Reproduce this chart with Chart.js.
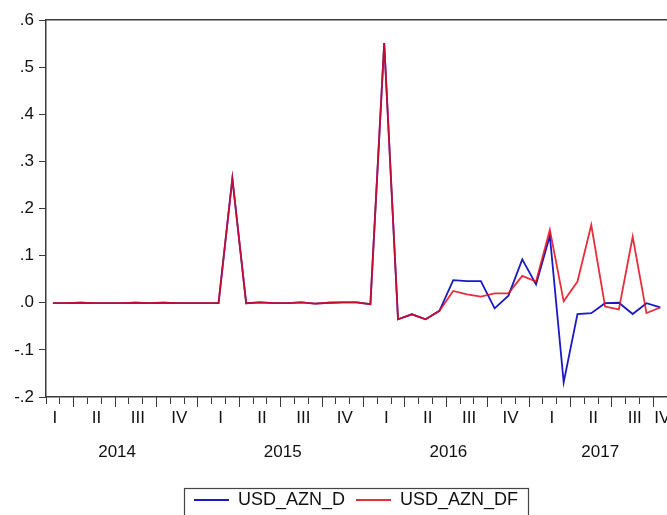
<!DOCTYPE html>
<html>
<head>
<meta charset="utf-8">
<title>USD_AZN_D vs USD_AZN_DF</title>
<script src="https://cdn.jsdelivr.net/npm/chart.js@4"></script>
<style>
  html, body { margin: 0; padding: 0; background: #fff; overflow: hidden; }
  #wrap { position: relative; width: 712px; height: 525px; }
</style>
</head>
<body>
<div id="wrap"><canvas id="c"></canvas></div>
<script>
// Monthly observations, 2014M02 .. 2017M10
const months = [
  '2014M02','2014M03','2014M04','2014M05','2014M06','2014M07','2014M08','2014M09','2014M10','2014M11','2014M12',
  '2015M01','2015M02','2015M03','2015M04','2015M05','2015M06','2015M07','2015M08','2015M09','2015M10','2015M11','2015M12',
  '2016M01','2016M02','2016M03','2016M04','2016M05','2016M06','2016M07','2016M08','2016M09','2016M10','2016M11','2016M12',
  '2017M01','2017M02','2017M03','2017M04','2017M05','2017M06','2017M07','2017M08','2017M09','2017M10'
];

// Actual differenced series
const usdAznD = [
  -0.001, -0.001,  0.000, -0.001, -0.001, -0.001,  0.000, -0.001,  0.000, -0.001, -0.001,
  -0.001, -0.001,  0.264, -0.001,  0.001, -0.001, -0.001,  0.001, -0.002,  0.000,  0.001,
   0.001, -0.003,  0.551, -0.035, -0.0245, -0.035, -0.017,  0.048,  0.046,  0.046, -0.012,
   0.015,  0.092,  0.039,  0.142, -0.169, -0.024, -0.022, -0.001,  0.000, -0.024, -0.001,
  -0.010
];

// Fitted / forecast series
const usdAznDF = [
  -0.001, -0.001,  0.000, -0.001, -0.001, -0.001,  0.000, -0.001,  0.000, -0.001, -0.001,
  -0.001, -0.001,  0.264, -0.001,  0.001, -0.001, -0.001,  0.001, -0.002,  0.000,  0.001,
   0.001, -0.003,  0.551, -0.035, -0.0245, -0.035, -0.017,  0.025,  0.018,  0.013,  0.020,
   0.020,  0.057,  0.045,  0.155,  0.003,  0.045,  0.165, -0.008, -0.014,  0.140, -0.022,
  -0.010
];

const quarterLabels = ['I','II','III','IV','I','II','III','IV','I','II','III','IV','I','II','III','IV'];
const yearLabels = ['2014','2015','2016','2017'];
const yTickValues = [-0.2, -0.1, 0.0, 0.1, 0.2, 0.3, 0.4, 0.5, 0.6];
const yTickLabels = ['-.2', '-.1', '.0', '.1', '.2', '.3', '.4', '.5', '.6'];

// ---- layout / style ----
const FONT = "'Liberation Sans', Arial, Helvetica, sans-serif";
const INK = '#111111';
const FRAME = '#3a3a3a';
const BLUE = '#1a1ac4';
const RED = 'rgba(226,10,28,0.85)';

// x positions are month offsets from the first observation (2014M02 = 0)
const X_MIN = -0.5;
const X_MAX = 45.5;                        // axis runs through 2017M11
const LABEL_END = months.length - 0.5;     // period labels stop at the last observation
const LABEL_NUDGE = 0.15;

const monthEdges = [];
for (let v = X_MIN; v <= X_MAX + 1e-9; v += 1) monthEdges.push(v);
const isQuarterEdge = v => (((v + 1.5) % 3) + 3) % 3 === 0;
const quarterEdges = monthEdges.filter(isQuarterEdge);

// quarter label centred on the observed part of each quarter
const quarterTicks = quarterLabels.map((lab, q) => {
  const a = 3 * q - 1.5, b = Math.min(3 * q + 1.5, LABEL_END);
  return { value: (a + b) / 2 + LABEL_NUDGE, label: lab };
});
const yearTicks = yearLabels.map((lab, k) => {
  const a = 12 * k - 1.5, b = Math.min(12 * k + 10.5, LABEL_END);
  return { value: (a + b) / 2 + LABEL_NUDGE, label: lab };
});
// bottom axis: month boundary marks plus the quarter labels
const xMainTicks = monthEdges.map(v => ({ value: v, label: '', mark: true }))
  .concat(quarterTicks.map(t => ({ value: t.value, label: t.label, mark: false })))
  .sort((a, b) => a.value - b.value);

const toPoints = vals => vals.map((y, i) => ({ x: i, y }));

// frame around the legend entries
const legendFrame = {
  id: 'legendFrame',
  afterDraw(chart) {
    const lg = chart.legend;
    if (!lg || !lg.legendHitBoxes || !lg.legendHitBoxes.length) return;
    const hb = lg.legendHitBoxes;
    const first = hb[0], last = hb[hb.length - 1];
    const left = first.left - 10;
    const right = last.left + last.width + 10;
    const top = first.top - 3;
    const ctx = chart.ctx;
    ctx.save();
    ctx.strokeStyle = '#444';
    ctx.lineWidth = 1.2;
    ctx.strokeRect(Math.round(left) + 0.5, Math.round(top) + 0.5, Math.round(right - left), 32);
    ctx.restore();
  }
};

const tickFont = { family: FONT, size: 17 };

new Chart(document.getElementById('c'), {
  type: 'line',
  data: {
    datasets: [
      {
        label: 'USD_AZN_D',
        data: toPoints(usdAznD),
        borderColor: BLUE,
        backgroundColor: BLUE,
        borderWidth: 1.8,
        pointRadius: 0,
        tension: 0,
        fill: false,
        order: 1
      },
      {
        label: 'USD_AZN_DF',
        data: toPoints(usdAznDF),
        borderColor: RED,
        backgroundColor: RED,
        borderWidth: 1.8,
        pointRadius: 0,
        tension: 0,
        fill: false,
        order: 0
      }
    ]
  },
  options: {
    responsive: true,
    maintainAspectRatio: false,
    animation: false,
    events: [],
    layout: { padding: { top: 20, bottom: 6, left: 0, right: 0 } },
    plugins: {
      tooltip: { enabled: false },
      legend: {
        position: 'bottom',
        labels: {
          font: { family: FONT, size: 18 },
          color: INK,
          usePointStyle: true,
          pointStyle: 'line',
          pointStyleWidth: 35,
          padding: 11,
          sort: (a, b) => a.datasetIndex - b.datasetIndex
        }
      }
    },
    scales: {
      x: {
        type: 'linear',
        position: 'bottom',
        weight: 0,
        min: X_MIN,
        max: X_MAX,
        afterBuildTicks: s => { s.ticks = xMainTicks.map(t => ({ value: t.value })); },
        afterFit: s => { s.height = 40; },
        grid: {
          drawOnChartArea: false,
          drawTicks: true,
          tickLength: 7,
          tickWidth: 1,
          tickColor: ctx => (xMainTicks[ctx.index] && xMainTicks[ctx.index].mark) ? FRAME : 'rgba(0,0,0,0)'
        },
        border: { display: true, color: FRAME, width: 1.5 },
        ticks: {
          autoSkip: false,
          maxRotation: 0,
          padding: 4,
          font: tickFont,
          color: INK,
          callback: (v, i) => xMainTicks[i] ? xMainTicks[i].label : ''
        }
      },
      xyear: {
        type: 'linear',
        axis: 'x',
        position: 'bottom',
        weight: 1,
        min: X_MIN,
        max: X_MAX,
        afterBuildTicks: s => { s.ticks = yearTicks.map(t => ({ value: t.value })); },
        afterFit: s => { s.height = 43; },
        grid: { display: false, drawTicks: false, drawOnChartArea: false },
        border: { display: false },
        ticks: {
          autoSkip: false,
          maxRotation: 0,
          padding: 5,
          font: tickFont,
          color: INK,
          callback: (v, i) => yearTicks[i] ? yearTicks[i].label : ''
        }
      },
      xquarter: {
        type: 'linear',
        axis: 'x',
        position: { y: -0.2 },
        min: X_MIN,
        max: X_MAX,
        afterBuildTicks: s => { s.ticks = quarterEdges.map(v => ({ value: v })); },
        grid: { drawOnChartArea: false, drawTicks: true, tickLength: 10, tickWidth: 1, tickColor: FRAME },
        border: { display: false },
        ticks: { display: false }
      },
      xtop: {
        type: 'linear',
        axis: 'x',
        position: 'top',
        min: X_MIN,
        max: X_MAX,
        afterFit: s => { s.height = 0; },
        grid: { display: false, drawTicks: false, drawOnChartArea: false },
        border: { display: true, color: FRAME, width: 1.5 },
        ticks: { display: false }
      },
      y: {
        type: 'linear',
        position: 'left',
        min: -0.2,
        max: 0.6,
        afterBuildTicks: s => { s.ticks = yTickValues.map(v => ({ value: v })); },
        afterFit: s => { s.width = 46; },
        grid: { drawOnChartArea: false, drawTicks: true, tickLength: 7, tickWidth: 1, tickColor: FRAME },
        border: { display: true, color: FRAME, width: 1.5 },
        ticks: {
          padding: 5,
          font: tickFont,
          color: INK,
          callback: (v, i) => yTickLabels[i]
        }
      },
      yright: {
        type: 'linear',
        axis: 'y',
        position: 'right',
        min: -0.2,
        max: 0.6,
        afterFit: s => { s.width = 31; },
        grid: { display: false, drawTicks: false, drawOnChartArea: false },
        border: { display: true, color: FRAME, width: 1.5 },
        ticks: { display: false }
      }
    }
  },
  plugins: [legendFrame]
});
</script>
</body>
</html>
